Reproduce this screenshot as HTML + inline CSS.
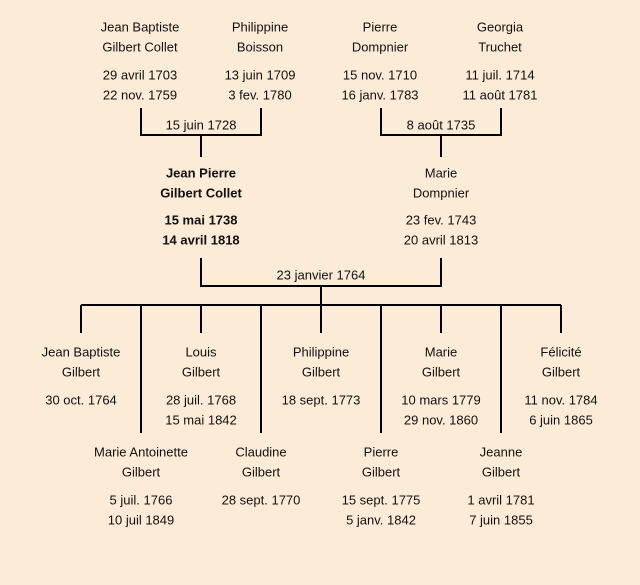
<!DOCTYPE html>
<html><head><meta charset="utf-8"><style>
html,body{margin:0;padding:0;background:#fcebd7;}
svg{display:block}
text{font-family:"Liberation Sans",sans-serif;font-size:13px;fill:#111;text-anchor:middle;dominant-baseline:middle}
.b{font-weight:bold}
</style></head><body>
<svg width="640" height="585" viewBox="0 0 640 585">
<rect width="640" height="585" fill="#fcebd7"/>
<g stroke="#000" stroke-width="2" fill="none">
<path d="M141 108V135H261V108M201 135V157"/>
<path d="M381 108V135H501V108M441 135V157"/>
<path d="M201 258V286H441V258M321 286V305"/>
<path d="M81 305H561"/>
<path d="M81 305V333M201 305V333M321 305V333M441 305V333M561 305V333"/>
<path d="M141 305V433M261 305V433M381 305V433M501 305V433"/>
</g>
<g transform="translate(0,1)">
<text x="140" y="27">Jean Baptiste</text><text x="140" y="47">Gilbert Collet</text>
<text x="140" y="75">29 avril 1703</text><text x="140" y="95">22 nov. 1759</text>
<text x="260" y="27">Philippine</text><text x="260" y="47">Boisson</text>
<text x="260" y="75">13 juin 1709</text><text x="260" y="95">3 fev. 1780</text>
<text x="380" y="27">Pierre</text><text x="380" y="47">Dompnier</text>
<text x="380" y="75">15 nov. 1710</text><text x="380" y="95">16 janv. 1783</text>
<text x="500" y="27">Georgia</text><text x="500" y="47">Truchet</text>
<text x="500" y="75">11 juil. 1714</text><text x="500" y="95">11 août 1781</text>
<text x="201" y="125">15 juin 1728</text>
<text x="441" y="125">8 août 1735</text>
<text class="b" x="201" y="173">Jean Pierre</text><text class="b" x="201" y="193">Gilbert Collet</text>
<text class="b" x="201" y="220">15 mai 1738</text><text class="b" x="201" y="240">14 avril 1818</text>
<text x="441" y="173">Marie</text><text x="441" y="193">Dompnier</text>
<text x="441" y="220">23 fev. 1743</text><text x="441" y="240">20 avril 1813</text>
<text x="321" y="275">23 janvier 1764</text>
<text x="81" y="352">Jean Baptiste</text><text x="81" y="372">Gilbert</text><text x="81" y="400">30 oct. 1764</text>
<text x="201" y="352">Louis</text><text x="201" y="372">Gilbert</text><text x="201" y="400">28 juil. 1768</text><text x="201" y="420">15 mai 1842</text>
<text x="321" y="352">Philippine</text><text x="321" y="372">Gilbert</text><text x="321" y="400">18 sept. 1773</text>
<text x="441" y="352">Marie</text><text x="441" y="372">Gilbert</text><text x="441" y="400">10 mars 1779</text><text x="441" y="420">29 nov. 1860</text>
<text x="561" y="352">Félicité</text><text x="561" y="372">Gilbert</text><text x="561" y="400">11 nov. 1784</text><text x="561" y="420">6 juin 1865</text>
<text x="141" y="452">Marie Antoinette</text><text x="141" y="472">Gilbert</text><text x="141" y="500">5 juil. 1766</text><text x="141" y="520">10 juil  1849</text>
<text x="261" y="452">Claudine</text><text x="261" y="472">Gilbert</text><text x="261" y="500">28 sept. 1770</text>
<text x="381" y="452">Pierre</text><text x="381" y="472">Gilbert</text><text x="381" y="500">15 sept. 1775</text><text x="381" y="520">5 janv. 1842</text>
<text x="501" y="452">Jeanne</text><text x="501" y="472">Gilbert</text><text x="501" y="500">1 avril 1781</text><text x="501" y="520">7 juin 1855</text>
</g>
</svg>
</body></html>
